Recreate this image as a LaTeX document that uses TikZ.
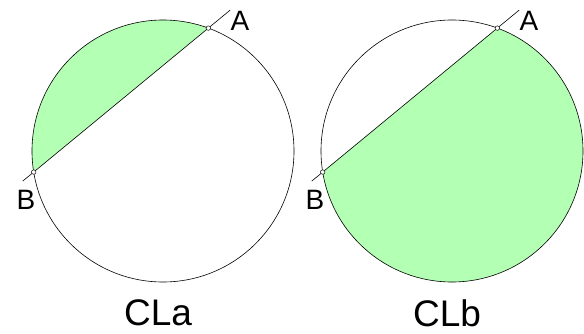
\documentclass[tikz,border=0pt]{standalone}
\usepackage{fontspec}
\setmainfont{Liberation Sans}
\usetikzlibrary{positioning, calc}
\definecolor{segfill}{RGB}{179,255,179}
\tikzset{
  pt/.style={circle, draw, fill=white, inner sep=0pt, minimum size=4.5pt, line width=0.5pt},
  lbl/.style={font=\fontsize{28}{28}\selectfont, inner sep=0pt},
  captxt/.style={font=\fontsize{37}{37}\selectfont, inner sep=0pt},
}

\begin{document}
\begin{tikzpicture}[x=1pt, y=1pt, line width=0.6pt]
  \useasboundingbox (0,0) rectangle (584,333);
  \foreach \cx/\nm/\from/\to in {163/a/69.75/189.25, 452/b/189.25/429.75}{
    \coordinate (c\nm) at (\cx,182);
    \coordinate (A\nm) at ([shift={(c\nm)}]69.75:131);
    \coordinate (B\nm) at ([shift={(c\nm)}]189.25:131);
    % shaded segment
    \fill[segfill] ([shift={(c\nm)}]\from:131) arc[start angle=\from, end angle=\to, radius=131] -- cycle;
    \draw (c\nm) circle[radius=131];
    \draw ($(B\nm)!-0.063!(A\nm)$) -- ($(A\nm)!-0.125!(B\nm)$);
    \node[pt] (pA\nm) at (A\nm) {};
    \node[pt] (pB\nm) at (B\nm) {};
    \node[lbl] (tA\nm) at (\cx+77,312) {A};
    \node[lbl] (tB\nm) at (\cx-137,133) {B};
    \node[captxt] (cl\nm) at (\cx-5,20) {CL\nm};
  }
\end{tikzpicture}
\end{document}
